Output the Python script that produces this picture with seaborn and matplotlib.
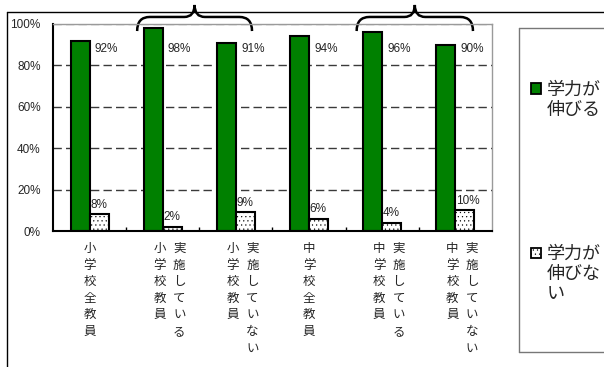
import matplotlib
matplotlib.use("Agg")
import matplotlib.pyplot as plt
import matplotlib.transforms as mtransforms
from matplotlib.patches import Rectangle, PathPatch
from matplotlib.path import Path
from matplotlib.lines import Line2D
import pandas as pd
import seaborn as sns

# ---- data ----
categories = ["小学校全教員", "実施している小学校教員", "実施していない小学校教員",
              "中学校全教員", "実施している中学校教員", "実施していない中学校教員"]
# vertical label columns, listed right-to-left
label_columns = [["小学校全教員"],
                 ["実施している", "小学校教員"],
                 ["実施していない", "小学校教員"],
                 ["中学校全教員"],
                 ["実施している", "中学校教員"],
                 ["実施していない", "中学校教員"]]
series = ["学力が伸びる", "学力が伸びない"]
improve = [92, 98, 91, 94, 96, 90]
not_improve = [8, 2, 9, 6, 4, 10]
yticks = [0, 20, 40, 60, 80, 100]

GREEN = "#008000"
W, H = 604, 367

sns.set_theme(style="white")
plt.rcParams["font.family"] = ["Liberation Sans", "Noto Sans CJK JP"]
plt.rcParams["hatch.linewidth"] = 0.35

df = pd.DataFrame({
    "category": categories * 2,
    "series": [series[0]] * len(categories) + [series[1]] * len(categories),
    "value": improve + not_improve,
})

fig = plt.figure(figsize=(W / 100, H / 100), dpi=100)
fig.patch.set_facecolor("white")


def fx(px):
    return px / W


def fy(py):
    return 1 - py / H


ax = fig.add_axes([fx(53), fy(231), fx(492) - fx(53), fy(24) - fy(231)])

sns.barplot(data=df, x="category", y="value", hue="series", order=categories,
            hue_order=series, palette=[GREEN, "white"], saturation=1,
            width=0.52, edgecolor="black", linewidth=1.5, legend=False, ax=ax)

for bar in ax.containers[1]:
    bar.set_hatch("....")

ax.set_xlim(-0.5, len(categories) - 0.5)
ax.set_ylim(0, 100)
ax.set_yticks(yticks)
ax.set_yticklabels([f"{v}%" for v in yticks], fontsize=8.5)
ax.tick_params(axis="y", length=0, pad=9)
ax.set_xlabel("")
ax.set_ylabel("")
ax.set_xticks(range(len(categories)))
ax.set_xticklabels([])
ax.tick_params(axis="x", which="major", length=0)
ax.set_xticks([i + 0.5 for i in range(len(categories) - 1)], minor=True)
ax.tick_params(axis="x", which="minor", direction="in", length=3, width=1,
               color="black", bottom=True)

# grid
for v in yticks[1:]:
    ax.axhline(v, color="#3a3a3a" if v < 100 else "#9a9a9a", lw=1,
               ls=(0, (6, 3)), zorder=0.5)

for side in ("left", "bottom"):
    ax.spines[side].set_color("black")
    ax.spines[side].set_linewidth(1.5)
for side in ("top", "right"):
    ax.spines[side].set_color("#9a9a9a")
    ax.spines[side].set_linewidth(1)

# value labels
for i, v in enumerate(improve):
    ax.text(i + 0.07, 88, f"{v}%", fontsize=8.5, ha="left", va="center")
for i, v in enumerate(not_improve):
    ax.annotate(f"{v}%", xy=(i, v), xytext=(0.5, 7), textcoords="offset points",
                fontsize=8.5, ha="left", va="center")

# vertical category labels
blend = mtransforms.blended_transform_factory(ax.transData, ax.transAxes)
for i, cols in enumerate(label_columns):
    offsets = [0] if len(cols) == 1 else [16.5, -3]
    for col, off in zip(cols, offsets):
        tr = mtransforms.offset_copy(blend, fig=fig, x=off, y=0, units="dots")
        ax.text(i, -0.053, "\n".join(col), transform=tr, fontsize=9,
                ha="center", va="top", linespacing=1.36,
                family=["Noto Sans CJK JP"])


# curly braces over grouped bars
def brace(x0, x1, y_end, y_mid, y_tip):
    xc = (x0 + x1) / 2
    w = x1 - x0
    verts = [(x0, y_end), (x0, y_mid), (x0 + 0.11 * w, y_mid),
             (xc - 0.09 * w, y_mid),
             (xc, y_mid), (xc, y_tip),
             (xc, y_mid), (xc + 0.09 * w, y_mid),
             (x1 - 0.11 * w, y_mid),
             (x1, y_mid), (x1, y_end)]
    codes = [Path.MOVETO, Path.CURVE3, Path.CURVE3, Path.LINETO,
             Path.CURVE3, Path.CURVE3, Path.CURVE3, Path.CURVE3,
             Path.LINETO, Path.CURVE3, Path.CURVE3]
    ax.add_patch(PathPatch(Path(verts, codes), fill=False, lw=1.8,
                           edgecolor="black", transform=blend, clip_on=False))


brace(0.65, 2.22, 0.966, 1.034, 1.092)
brace(3.65, 5.24, 0.966, 1.034, 1.092)

# outer frame (left and top edges)
fig.add_artist(Line2D([fx(7), fx(7)], [fy(12), 0], color="black", lw=1))
fig.add_artist(Line2D([fx(7), 1], [fy(12), fy(12)], color="black", lw=1))

# legend box
fig.add_artist(Line2D([fx(519), fx(519)], [fy(28), fy(352)], color="#777777", lw=1))
fig.add_artist(Line2D([fx(519), 1], [fy(28), fy(28)], color="#777777", lw=1))
fig.add_artist(Line2D([fx(519), 1], [fy(352), fy(352)], color="#777777", lw=1))

legend_rows = [(89, GREEN, None), (253, "white", "....")]
for (py, fc, hatch), name in zip(legend_rows, series):
    fig.add_artist(Rectangle((fx(530.5), fy(py + 5)), fx(10.5), 10.5 / H,
                             facecolor=fc, edgecolor="black", lw=1.3, hatch=hatch))
    wrapped = "\n".join(name[k:k + 3] for k in range(0, len(name), 3))
    fig.text(fx(547), fy(py - 8), wrapped, fontsize=13, ha="left", va="top",
             linespacing=1.15, family=["Noto Sans CJK JP"])

fig.savefig("out.png", dpi=100, facecolor="white")
